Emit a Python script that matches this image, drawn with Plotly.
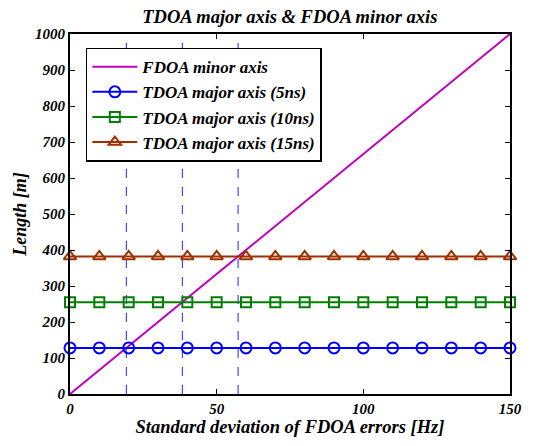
import plotly.graph_objects as go

freq_hz = [0, 10, 20, 30, 40, 50, 60, 70, 80, 90, 100, 110, 120, 130, 140, 150]
fdoa_x = [0, 150]
fdoa_minor = [0, 1000]
tdoa_5ns = [128] * 16
tdoa_10ns = [255] * 16
tdoa_15ns = [382] * 16
crossing_x = [19.2, 38.3, 57.3]

FONT = "Liberation Serif"
fig = go.Figure()

for cx in crossing_x:
    fig.add_trace(go.Scatter(x=[cx, cx], y=[0, 1000], mode="lines",
                             line=dict(color="#2020ff", width=1, dash="dash"),
                             showlegend=False, hoverinfo="skip"))

fig.add_trace(go.Scatter(x=fdoa_x, y=fdoa_minor, mode="lines", name="<b><i>FDOA minor axis</i></b>",
                         line=dict(color="#bf00bf", width=2)))
fig.add_trace(go.Scatter(x=freq_hz, y=tdoa_5ns, mode="lines+markers", name="<b><i>TDOA major axis (5ns)</i></b>",
                         line=dict(color="#0000ff", width=2), cliponaxis=False,
                         marker=dict(symbol="circle-open", size=11, line=dict(width=2, color="#0000ff"))))
fig.add_trace(go.Scatter(x=freq_hz, y=tdoa_10ns, mode="lines+markers", name="<b><i>TDOA major axis (10ns)</i></b>",
                         line=dict(color="#008000", width=2), cliponaxis=False,
                         marker=dict(symbol="square-open", size=10, line=dict(width=2, color="#008000"))))
fig.add_trace(go.Scatter(x=freq_hz, y=tdoa_15ns, mode="lines+markers", name="<b><i>TDOA major axis (15ns)</i></b>",
                         line=dict(color="#a03000", width=2), cliponaxis=False,
                         marker=dict(symbol="triangle-up-open", size=11, line=dict(width=2, color="#a03000"))))

fig.update_layout(
    width=550, height=446,
    margin=dict(l=70, r=40, t=34, b=48),
    paper_bgcolor="white", plot_bgcolor="white",
    font=dict(family=FONT, size=14, color="black"),
    title=dict(text="<b><i>TDOA major axis & FDOA minor axis</i></b>", x=0.527, xanchor="center",
               y=0.962, yanchor="middle", font=dict(size=18.5)),
    legend=dict(x=0.036, y=0.962, xanchor="left", yanchor="top",
                bordercolor="black", borderwidth=1.5, bgcolor="white",
                font=dict(size=17), itemwidth=45, tracegroupgap=0),
    showlegend=True,
)
fig.update_xaxes(range=[0, 150], tickvals=[0, 50, 100, 150],
                 ticktext=["<b><i>0</i></b>", "<b><i>50</i></b>", "<b><i>100</i></b>", "<b><i>150</i></b>"],
                 ticks="inside", ticklen=5, tickcolor="black", showline=True, linecolor="black", linewidth=2,
                 mirror="ticks", showgrid=False, zeroline=False, tickfont=dict(size=15),
                 title=dict(text="<b><i>Standard deviation of FDOA errors [Hz]</i></b>", font=dict(size=18.5), standoff=4))
yt = list(range(0, 1001, 100))
fig.update_yaxes(range=[0, 1000], tickvals=yt, ticktext=[f"<b><i>{v}</i></b>" for v in yt],
                 ticks="inside", ticklen=5, tickcolor="black", showline=True, linecolor="black", linewidth=2,
                 mirror="ticks", showgrid=False, zeroline=False, tickfont=dict(size=15),
                 title=dict(text="<b><i>Length [m]</i></b>", font=dict(size=18), standoff=4))

fig.write_html("out.html")
